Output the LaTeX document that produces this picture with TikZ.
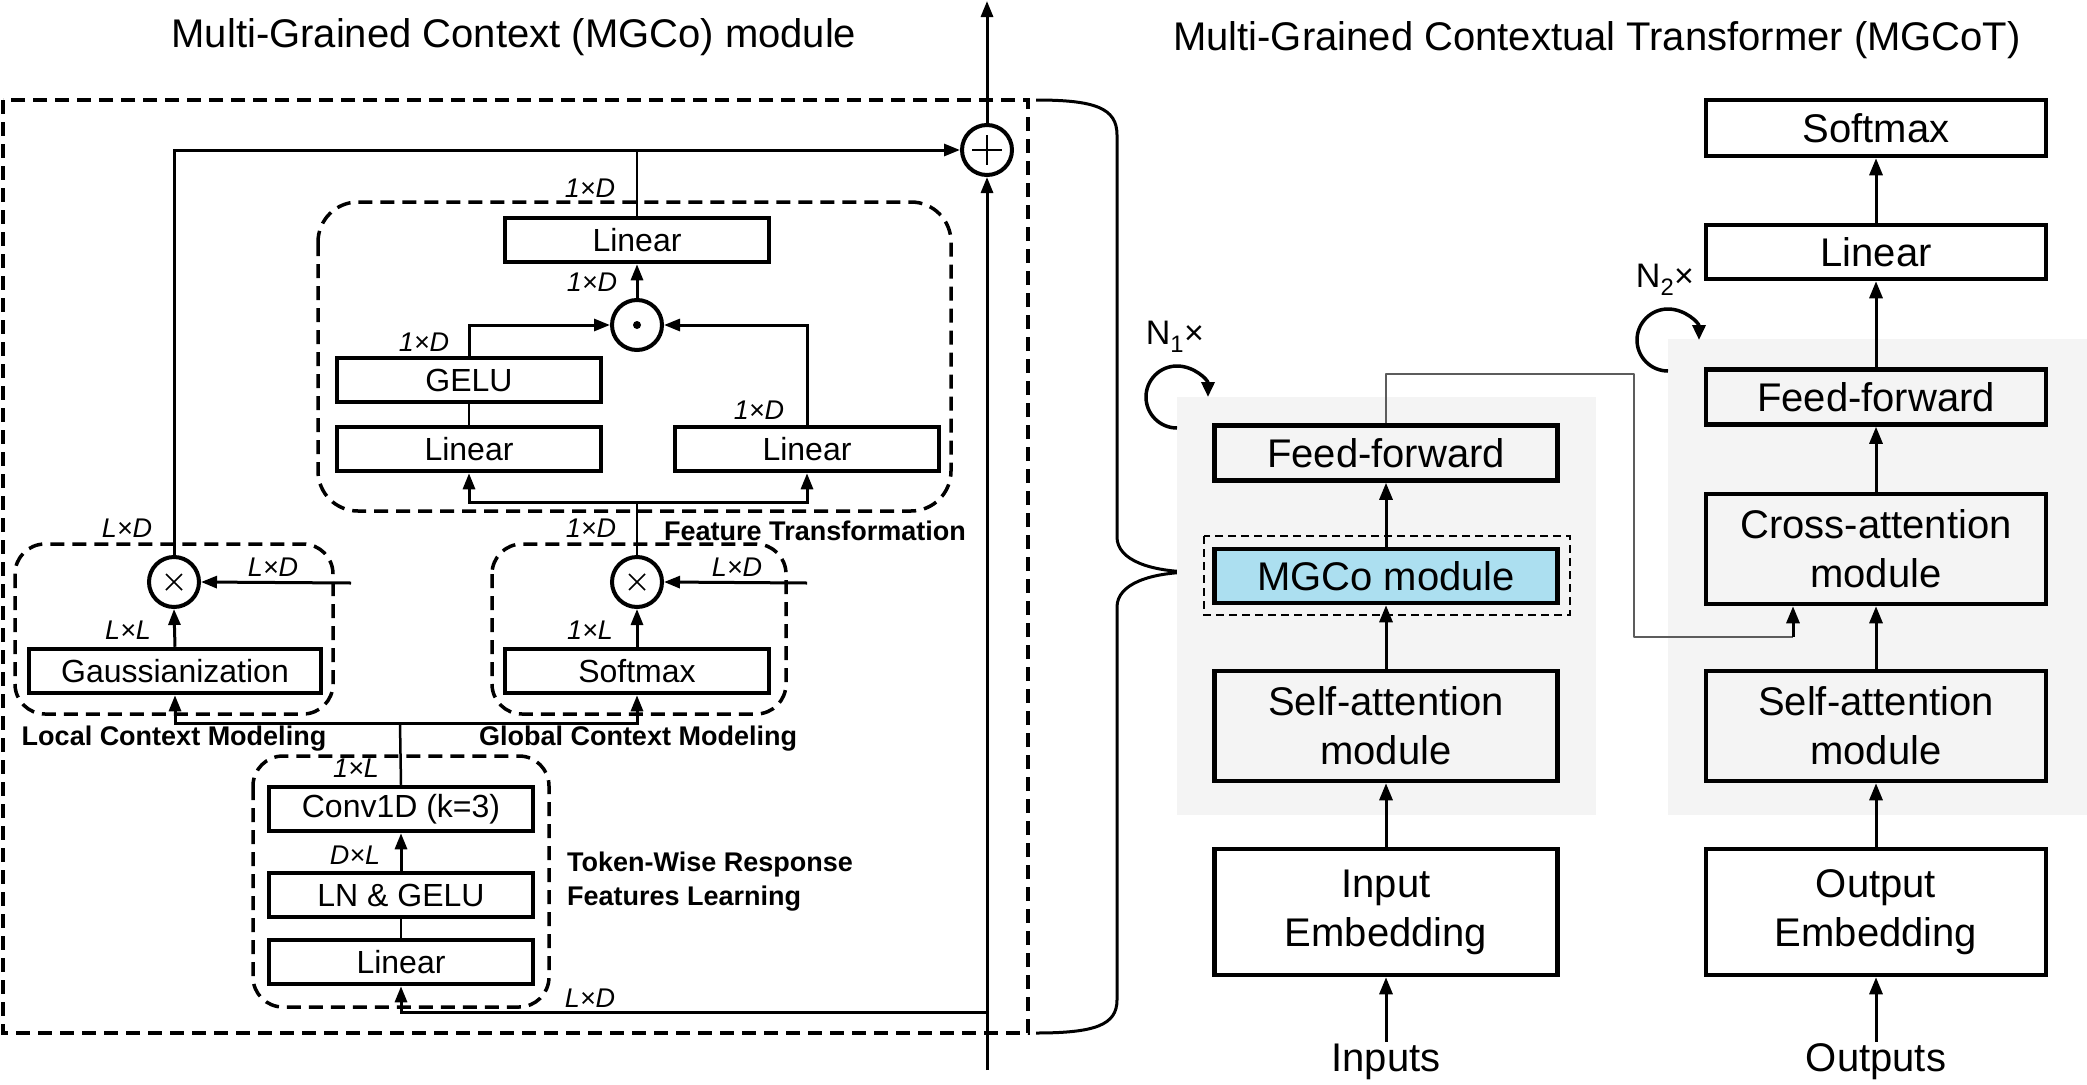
\documentclass[tikz,border=0pt]{standalone}
\usepackage{fontspec}
\setmainfont{Liberation Sans}
\usetikzlibrary{arrows.meta}
\definecolor{mgblue}{RGB}{172,223,240}
\definecolor{bggrey}{RGB}{244,244,244}
\definecolor{conngrey}{RGB}{92,92,92}
\newcommand{\fsbox}{\fontsize{32}{38}\selectfont}
\newcommand{\fsbig}{\fontsize{40}{49}\selectfont}
\newcommand{\fsdim}{\fontsize{27}{30}\selectfont\itshape}
\newcommand{\fslab}{\fontsize{27}{34}\selectfont\bfseries}
\begin{document}
\begin{tikzpicture}[x=1pt,y=-1pt,
  lbox/.style={draw, line width=4.5pt, inner sep=0pt, font=\fsbox, minimum height=44pt, minimum width=264pt},
  rbox/.style={draw, line width=4.5pt, inner sep=0pt, font=\fsbig, align=center},
  op/.style={draw, circle, line width=4pt, minimum size=50pt, inner sep=0pt, fill=white},
  conn/.style={line width=3pt, -{Triangle[length=16pt,width=12pt]}},
  rconn/.style={line width=3pt, -{Triangle[length=17pt,width=13pt]}},
  plain/.style={line width=2.5pt},
  dbox/.style={line width=3.5pt, dash pattern=on 14pt off 8pt},
  dim/.style={font=\fsdim, inner sep=0pt},
  lab/.style={font=\fslab, inner sep=0pt},
  rep/.style={font=\fontsize{34}{40}\selectfont, inner sep=0pt},
  circarrow/.style={line width=3.5pt, -{Triangle[length=15pt,width=13pt]}},
]
\useasboundingbox (0,0) rectangle (2087,1084);

% ---------------- titles ----------------
\node[font=\fsbig] (t1) at (514,37) {Multi-Grained Context (MGCo) module};
\node[font=\fsbig] (t2) at (1597,40) {Multi-Grained Contextual Transformer (MGCoT)};

% ---------------- left: MGCo module ----------------
\draw[dbox] (3,100) rectangle (1028,1033);
\draw[dbox, rounded corners=40pt] (318,202) rectangle (951,511);
\draw[dbox, rounded corners=30pt] (15,544) rectangle (333,714);
\draw[dbox, rounded corners=30pt] (492,544) rectangle (786,714);
\draw[dbox, rounded corners=30pt] (253,756) rectangle (549,1007);

\node[op] (oplus) at (987,150) {};
\draw[line width=2pt] (oplus.center) +(-15,0) -- +(15,0) (oplus.center) +(0,-15) -- +(0,15);

\node[lbox] (lin1) at (637,240) {Linear};
\node[op] (odot) at (637,325) {};
\fill (odot.center) circle[radius=4pt];
\node[lbox] (gelu) at (469,380) {GELU};
\node[lbox] (linL) at (469,449) {Linear};
\node[lbox] (linR) at (807,449) {Linear};

\node[op] (otL) at (174,582) {};
\draw[line width=1.5pt] (otL.center) +(-8,-8) -- +(8,8) (otL.center) +(-8,8) -- +(8,-8);
\node[lbox, minimum width=292pt] (gauss) at (175,671) {Gaussianization};
\node[op] (otG) at (637,582) {};
\draw[line width=1.5pt] (otG.center) +(-8,-8) -- +(8,8) (otG.center) +(-8,8) -- +(8,-8);
\node[lbox] (softL) at (637,671) {Softmax};

\node[lbox] (conv) at (401,809) {Conv1D (k=3)};
\node[lbox] (lng) at (401,895) {LN \& GELU};
\node[lbox] (linT) at (401,962) {Linear};

\coordinate (ftj) at (637,502);
\coordinate (cj) at (400,723);
\coordinate (bj) at (987,1012);
\coordinate (mbot) at (987,1070);
\coordinate (mtop) at (987,1);
\coordinate (inL) at (351,583);
\coordinate (inG) at (807,583);

% connectors left
\draw[conn] (mbot) -- (oplus.south);
\draw[conn] (oplus.north) -- (mtop);
\draw[conn] (otL.north) |- (oplus.west);
\draw[plain] (lin1.north) -- (lin1.north |- oplus.west);
\draw[conn] (odot.north) -- (lin1.south);
\draw[conn] (gelu.north) |- (odot.west);
\draw[conn] (linR.north) |- (odot.east);
\draw[plain] (linL.north) -- (gelu.south);
\draw[plain] (otG.north) -- (ftj);
\draw[conn] (ftj) -| (linL.south);
\draw[conn] (ftj) -| (linR.south);
\draw[conn] (gauss.north) -- (otL.south);
\draw[conn] (inL) -- (otL.east);
\draw[conn] (softL.north) -- (otG.south);
\draw[conn] (inG) -- (otG.east);
\draw[plain] (conv.north) -- (cj);
\draw[conn] (cj) -| (gauss.south);
\draw[conn] (cj) -| (softL.south);
\draw[conn] (lng.north) -- (conv.south);
\draw[plain] (linT.north) -- (lng.south);
\draw[conn] (bj) -| (linT.south);

% dimension labels
\node[dim] (d1) at (590,188) {1×D};
\node[dim] (d2) at (592,282) {1×D};
\node[dim] (d3) at (424,342) {1×D};
\node[dim] (d4) at (759,410) {1×D};
\node[dim] (d5) at (591,528) {1×D};
\node[dim] (d6) at (127,528) {L×D};
\node[dim] (d7) at (273,567) {L×D};
\node[dim] (d8) at (128,630) {L×L};
\node[dim] (d9) at (737,567) {L×D};
\node[dim] (d10) at (590,630) {1×L};
\node[dim] (d11) at (356,768) {1×L};
\node[dim] (d12) at (355,855) {D×L};
\node[dim] (d13) at (590,998) {L×D};

\node[lab] (lft) at (815,531) {Feature Transformation};
\node[lab] (llc) at (174,739) {Local Context Modeling};
\node[lab] (lgc) at (638,739) {Global Context Modeling};
\node[lab, anchor=west, align=left] (ltw) at (567,882) {Token-Wise Response\\Features Learning};

% brace
\draw[line width=3pt] (1036,100) .. controls (1095,100) and (1117,108) .. (1117,135) -- (1117,537)
  .. controls (1117,560) and (1150,572) .. (1196,572)
  .. controls (1150,572) and (1117,584) .. (1117,607) -- (1117,1000)
  .. controls (1117,1025) and (1095,1033) .. (1036,1033);

% ---------------- right: MGCoT ----------------
\fill[bggrey] (1177,397) rectangle (1596,815);
\fill[bggrey] (1668,339) rectangle (2087,815);

\node[rbox, minimum width=343pt, minimum height=55pt] (ffL) at (1386,453) {Feed-forward};
\node[rbox, minimum width=343pt, minimum height=54pt, fill=mgblue] (mgco) at (1386,576) {MGCo module};
\draw[line width=2.5pt, dash pattern=on 8pt off 5pt] (1204,536) rectangle (1570,615);
\node[rbox, minimum width=343pt, minimum height=110pt] (saL) at (1386,726) {Self-attention\\module};
\node[rbox, minimum width=343pt, minimum height=126pt] (ieL) at (1386,912) {Input\\Embedding};
\node[font=\fsbig, inner sep=2pt] (inputs) at (1386,1062) {Inputs};

\node[rbox, minimum width=340pt, minimum height=56pt] (softR) at (1876,128) {Softmax};
\node[rbox, minimum width=340pt, minimum height=54pt] (linR2) at (1876,252) {Linear};
\node[rbox, minimum width=340pt, minimum height=55pt] (ffR) at (1876,397) {Feed-forward};
\node[rbox, minimum width=340pt, minimum height=110pt] (cross) at (1876,549) {Cross-attention\\module};
\node[rbox, minimum width=340pt, minimum height=110pt] (saR) at (1876,726) {Self-attention\\module};
\node[rbox, minimum width=340pt, minimum height=126pt] (oe) at (1876,912) {Output\\Embedding};
\node[font=\fsbig, inner sep=2pt] (outputs) at (1876,1062) {Outputs};

\draw[rconn] (inputs.north) -- (ieL.south);
\draw[rconn] (ieL.north) -- (saL.south);
\draw[rconn] (saL.north) -- (mgco.south);
\draw[rconn] (mgco.north) -- (ffL.south);

\draw[rconn] (outputs.north) -- (oe.south);
\draw[rconn] (oe.north) -- (saR.south);
\draw[rconn] (saR.north) -- (cross.south);
\draw[rconn] (cross.north) -- (ffR.south);
\draw[rconn] (ffR.north) -- (linR2.south);
\draw[rconn] (linR2.north) -- (softR.south);

\coordinate (g1) at (1634,374);
\coordinate (g2) at (1793,637);
\draw[line width=2.5pt, color=conngrey, line join=round]
  (ffL.north) |- (g1) |- (g2);
\draw[rconn] (g2) -- (g2 |- cross.south);

% repeat markers
\node[rep] (n1) at (1175,337) {N\textsubscript{1}×};
\node[rep] (n2) at (1665,280) {N\textsubscript{2}×};
\coordinate (c1) at (1177,397);
\coordinate (c2) at (1668,340);
\draw[circarrow] (c1) ++(0,31) arc[start angle=90, end angle=360, radius=31];
\draw[circarrow] (c2) ++(0,31) arc[start angle=90, end angle=360, radius=31];
\end{tikzpicture}
\end{document}
